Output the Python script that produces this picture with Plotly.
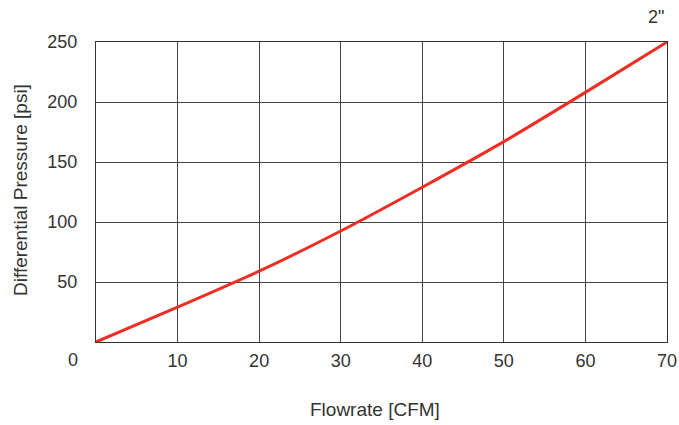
import plotly.graph_objects as go

flowrate = [0, 10, 20, 30, 40, 50, 60, 70]
pressure = [0, 29, 59, 92.5, 129, 167, 208, 250]
x_ticks = [10, 20, 30, 40, 50, 60, 70]
y_ticks = [50, 100, 150, 200, 250]
series_label = '2"'

FONT = "Liberation Sans, Arial, sans-serif"
TXT = "#333333"

W, H = 679, 425
L, R, T, B = 96, 12, 42, 83

fig = go.Figure()
fig.add_trace(go.Scatter(
    x=flowrate, y=pressure, mode="lines",
    line=dict(color="#ee2e24", width=3, shape="spline", smoothing=0.6),
    showlegend=False, hoverinfo="x+y"))

fig.update_layout(
    width=W, height=H,
    margin=dict(l=L, r=R, t=T, b=B, autoexpand=False),
    paper_bgcolor="white", plot_bgcolor="white",
    font=dict(family=FONT, size=18, color=TXT),
    xaxis=dict(range=[0, 70], tickvals=x_ticks, ticktext=[str(v) for v in x_ticks],
               showgrid=True, gridcolor="#444444", gridwidth=1, automargin=False,
               showline=True, linecolor="#333333", linewidth=1, mirror=True,
               zeroline=False, ticks="outside", ticklen=2, tickcolor="rgba(0,0,0,0)",
               ticklabeloverflow="allow",
               tickfont=dict(family=FONT, size=18, color=TXT)),
    yaxis=dict(range=[0, 250], tickvals=y_ticks, ticktext=[str(v) for v in y_ticks],
               showgrid=True, gridcolor="#444444", gridwidth=1, automargin=False,
               showline=True, linecolor="#333333", linewidth=1, mirror=True,
               zeroline=False, ticks="outside", ticklen=14, tickcolor="rgba(0,0,0,0)",
               tickfont=dict(family=FONT, size=18, color=TXT)),
    annotations=[
        dict(text="0", x=73, y=360, showarrow=False,
             xanchor="center", yanchor="middle"),
        dict(text="Flowrate [CFM]", x=375, y=409, showarrow=False,
             xanchor="center", yanchor="middle", font=dict(size=19)),
        dict(text="Differential Pressure [psi]", x=20, y=190, showarrow=False,
             textangle=-90, xanchor="center", yanchor="middle", font=dict(size=19)),
        dict(text=series_label, x=656, y=17, showarrow=False,
             xanchor="center", yanchor="middle", font=dict(size=18)),
    ],
)

# convert reference-pixel positions of annotations into paper coordinates
pw, ph = W - L - R, H - T - B
for a in fig.layout.annotations:
    a.x = (a.x - L) / pw
    a.y = (H - B - a.y) / ph
    a.xref = "paper"
    a.yref = "paper"

fig.write_html(
    "out.html",
    config={"displayModeBar": False},
    post_script="document.body.style.margin='0';document.body.style.overflow='hidden';",
)
